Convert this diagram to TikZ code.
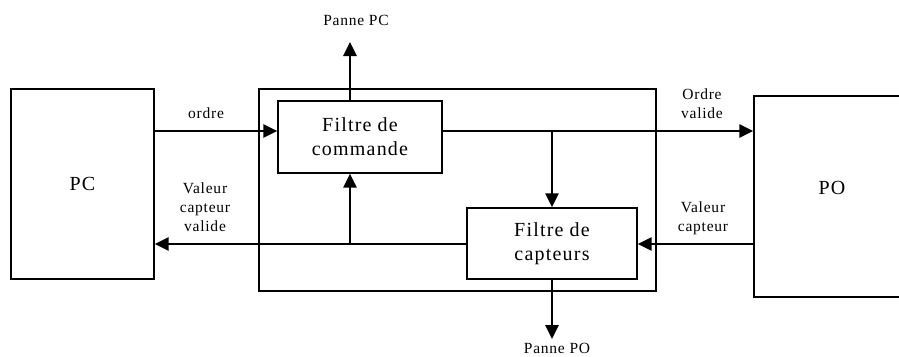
\documentclass[tikz,border=0pt]{standalone}
\usepackage{fontspec}
\setmainfont{Liberation Serif}
\newfontfamily\boxfnt[LetterSpace=6]{Liberation Serif}
\newfontfamily\lblfnt[LetterSpace=5]{Liberation Serif}
\usetikzlibrary{arrows.meta}
\begin{document}
\begin{tikzpicture}[x=1pt,y=-1pt,
  blk/.style={draw,line width=1.3pt,inner sep=0pt},
  arr/.style={line width=2.6pt,-{Triangle[length=14pt,width=13pt]}},
  boxtxt/.style={font=\boxfnt\fontsize{20}{24}\selectfont,align=center,inner sep=0pt},
  lbl/.style={font=\lblfnt\fontsize{15.5}{19}\selectfont,align=center,inner sep=0pt,anchor=base}]
\useasboundingbox (0,0) rectangle (899,356);
% blocks
\node[blk,minimum width=143pt,minimum height=190pt] (pc) at (82.5,184) {};
\node[boxtxt] (pctxt) at (pc.center) {PC};
\node[blk,minimum width=397pt,minimum height=202pt] (outer) at (457.5,190) {};
\node[blk,fill=white,minimum width=164pt,minimum height=72pt] (fc) at (360,137) {};
\node[boxtxt] (fctxt) at (fc.center) {Filtre de\\commande};
\node[blk,fill=white,minimum width=170pt,minimum height=71pt] (fcap) at (552,243.5) {};
\node[boxtxt] (fcaptxt) at (fcap.center) {Filtre de\\capteurs};
\node[blk,minimum width=160pt,minimum height=201pt] (po) at (834,196.5) {};
\node[boxtxt,anchor=base] (potxt) at (832,194) {PO};
% helper coordinates
\coordinate (ytop) at (0,131);
\coordinate (ybot) at (0,244);
\coordinate (xl) at (350,0);
\coordinate (xr) at (552,0);
\coordinate (brtop) at (552,131);
\coordinate (brbot) at (350,244);
\coordinate (ppc) at (350,42);
\coordinate (ppo) at (552,339);
% connectors
\draw[arr] (pc.east |- ytop) -- (fc.west |- ytop);
\draw[arr] (fc.east |- ytop) -- (po.west |- ytop);
\draw[arr] (brtop) -- (fcap.north -| brtop);
\draw[arr] (po.west |- ybot) -- (fcap.east |- ybot);
\draw[arr] (fcap.west |- ybot) -- (pc.east |- ybot);
\draw[arr] (brbot) -- (fc.south -| brbot);
\draw[arr] (fc.north -| xl) -- (ppc);
\draw[arr] (fcap.south -| xr) -- (ppo);
% labels
\node[lbl] (lordre) at (206,118) {ordre};
\node[lbl] (lov) at (702,118) {Ordre\\valide};
\node[lbl] (lvc) at (703,231) {Valeur\\capteur};
\node[lbl] (lvcv) at (205,231) {Valeur\\capteur\\valide};
\node[lbl] (lppc) at (356,25) {Panne PC};
\node[lbl] (lppo) at (557,353) {Panne PO};
\end{tikzpicture}
\end{document}
